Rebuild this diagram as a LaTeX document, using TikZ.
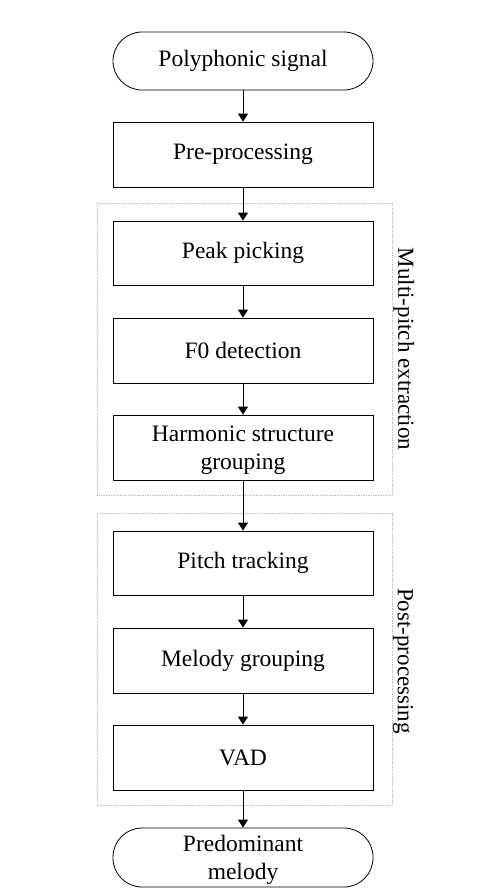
\documentclass[tikz,border=0pt]{standalone}
\usepackage{fontspec}
\setmainfont{Liberation Serif}
\usetikzlibrary{arrows.meta}
\begin{document}
\begin{tikzpicture}[x=1pt,y=-1pt,
  box/.style={draw=black,line width=0.8pt,minimum width=260pt,minimum height=65pt,inner sep=0pt,align=center,font=\fontsize{23.5}{28}\selectfont},
  term/.style={box,rounded corners=29pt,minimum height=58pt},
  twoline/.style={text depth=0pt},
  grp/.style={draw=gray!50,line width=0.7pt,densely dotted},
  lbl/.style={rotate=-90,font=\fontsize{23}{27}\selectfont},
  arr/.style={draw=black,line width=0.8pt,-{Triangle[length=8pt,width=10pt]}}]
\useasboundingbox (0,0) rectangle (485,895);
\draw[grp] (97,203) rectangle (392,495);
\draw[grp] (97,513) rectangle (392,805);
\node[term] (start) at (243,61) {Polyphonic signal};
\node[box] (pre) at (243,154.5) {Pre-processing};
\node[box,minimum height=64pt] (peak) at (243,253) {Peak picking};
\node[box] (f0) at (243,350.5) {F0 detection};
\node[box,twoline] (harm) at (243,447.5) {Harmonic structure\\grouping};
\node[box,minimum height=64pt] (pitch) at (243,563) {Pitch tracking};
\node[box] (mel) at (243,660.5) {Melody grouping};
\node[box] (vad) at (243,757.5) {VAD};
\node[term,twoline,minimum height=59pt] (end) at (243,857.5) {Predominant\\melody};
\node[lbl] (l1) at (404,349) {Multi-pitch extraction};
\node[lbl] (l2) at (403,661) {Post-processing};
\draw[arr] (start) -- (pre);
\draw[arr] (pre) -- (peak);
\draw[arr] (peak) -- (f0);
\draw[arr] (f0) -- (harm);
\draw[arr] (harm) -- (pitch);
\draw[arr] (pitch) -- (mel);
\draw[arr] (mel) -- (vad);
\draw[arr] (vad) -- (end);
\end{tikzpicture}
\end{document}
